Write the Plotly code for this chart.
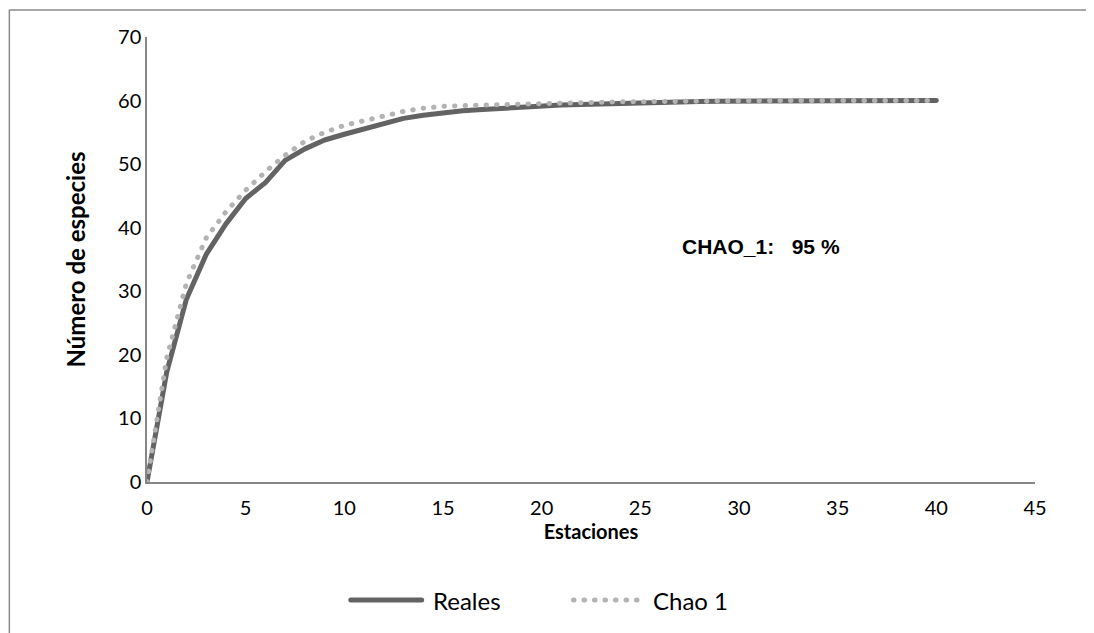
import plotly.graph_objects as go

estaciones = list(range(0, 41))
reales = [0, 17.3, 28.8, 35.8, 40.6, 44.6, 47.1, 50.6, 52.4, 53.8, 54.7, 55.6, 56.4, 57.2, 57.7,
          58.1, 58.4, 58.6, 58.8, 59.0, 59.2, 59.3, 59.4, 59.5, 59.6, 59.7, 59.75, 59.8, 59.85, 59.9,
          59.9, 59.95, 60, 60, 60, 60, 60, 60, 60, 60, 60]
chao1 = [0, 19.5, 31.3, 38.4, 42.5, 45.9, 48.8, 51.4, 53.6, 55.0, 56.1, 56.9, 57.7, 58.3, 58.8,
         59.1, 59.2, 59.3, 59.4, 59.5, 59.6, 59.65, 59.7, 59.75, 59.8, 59.85, 59.9, 59.9, 59.95, 60,
         60, 60, 60, 60, 60, 60, 60, 60, 60, 60, 60]
series_names = ["Reales", "Chao 1"]
series_colors = ["#636363", "#b3b3b3"]

x_ticks = list(range(0, 50, 5))
y_ticks = list(range(0, 80, 10))

font_fam = "Lato, 'Open Sans', sans-serif"
dot_dash = "0.5px,10px"

fig = go.Figure()
fig.add_trace(go.Scatter(x=estaciones, y=reales, mode="lines", name=series_names[0],
                         line=dict(color=series_colors[0], width=5)))
fig.add_trace(go.Scatter(x=estaciones, y=chao1, mode="lines", name=series_names[1],
                         line=dict(color=series_colors[1], width=5, dash=dot_dash)))

fig.add_annotation(x=31.1, y=37, text="<b>CHAO_1:&nbsp;&nbsp;&nbsp;95 %</b>", showarrow=False,
                   font=dict(family="Liberation Sans, Arial, sans-serif", size=21, color="#000000"))

# outer chart border
fig.add_shape(type="rect", xref="paper", yref="paper", x0=-0.155, y0=-0.6, x1=1.2, y1=1.0607,
              line=dict(color="#8a8a8a", width=1.5), fillcolor="rgba(0,0,0,0)", layer="below")

# legend (drawn below the plot, Excel style with long samples)
leg_y = -0.2652
fig.add_shape(type="line", xref="paper", yref="paper", x0=0.2295, x1=0.3093, y0=leg_y, y1=leg_y,
              line=dict(color=series_colors[0], width=5))
fig.add_annotation(xref="paper", yref="paper", x=0.3195, y=leg_y, xanchor="left", yanchor="middle",
                   text=series_names[0], showarrow=False, font=dict(family=font_fam, size=24))
fig.add_shape(type="line", xref="paper", yref="paper", x0=0.4803, x1=0.5523, y0=leg_y, y1=leg_y,
              line=dict(color=series_colors[1], width=5, dash=dot_dash))
fig.add_annotation(xref="paper", yref="paper", x=0.568, y=leg_y, xanchor="left", yanchor="middle",
                   text=series_names[1], showarrow=False, font=dict(family=font_fam, size=24))

fig.update_layout(
    width=1094, height=633,
    margin=dict(l=139, r=67, t=29, b=159),
    plot_bgcolor="white", paper_bgcolor="white",
    font=dict(family=font_fam, size=20, color="#000000"),
    showlegend=False,
    xaxis=dict(range=[0, 45], tickvals=x_ticks, showgrid=False, zeroline=False,
               showline=True, linecolor="#868686", linewidth=1.5, ticks="",
               ticklabelstandoff=7,
               title=dict(text="<b>Estaciones</b>", font=dict(size=20), standoff=0)),
    yaxis=dict(range=[0, 70], tickvals=y_ticks, showgrid=False, zeroline=False,
               showline=True, linecolor="#868686", linewidth=1.5, ticks="",
               ticklabelstandoff=0,
               title=dict(text="<b>Número de especies</b>", font=dict(size=24), standoff=26)),
)

post = """
var gd = document.getElementById('{plot_id}');
function roundCaps() {
  gd.querySelectorAll('path.js-line, .shapelayer path').forEach(function(p) {
    p.style.strokeLinecap = 'round'; p.style.strokeLinejoin = 'round';
  });
}
roundCaps();
gd.on('plotly_afterplot', roundCaps);
setTimeout(roundCaps, 50);
setTimeout(roundCaps, 300);
"""

fig.write_html("out.html", post_script=post)
